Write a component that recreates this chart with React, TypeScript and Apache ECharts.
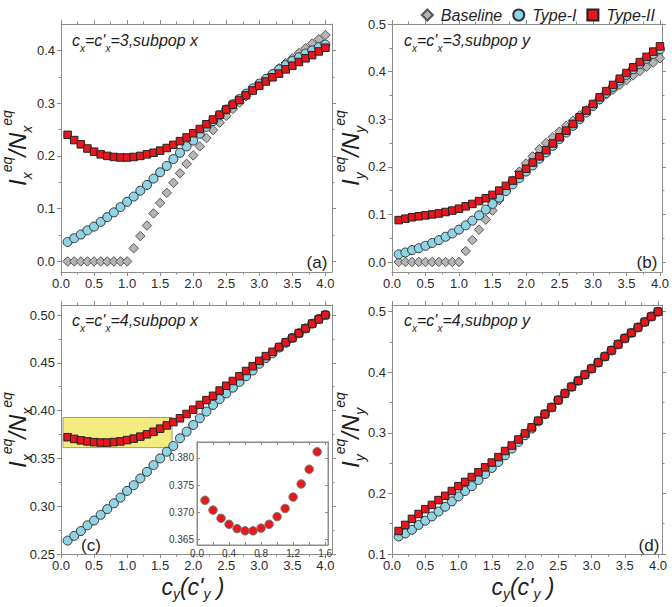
import React, { useEffect, useRef } from 'react';
import * as echarts from 'echarts';

const FONT = '"Liberation Sans", Arial, Helvetica, sans-serif';

// ---------- data ----------
const xs = [0.1, 0.2, 0.3, 0.4, 0.5, 0.6, 0.7, 0.8, 0.9, 1.0, 1.1, 1.2, 1.3, 1.4, 1.5, 1.6, 1.7, 1.8, 1.9, 2.0,
  2.1, 2.2, 2.3, 2.4, 2.5, 2.6, 2.7, 2.8, 2.9, 3.0, 3.1, 3.2, 3.3, 3.4, 3.5, 3.6, 3.7, 3.8, 3.9, 4.0];

// panel (a): cx=c'x=3, subpop x
const aBaseline = [0, 0, 0, 0, 0, 0, 0, 0, 0, 0, 0.025, 0.048, 0.068, 0.091, 0.111, 0.130, 0.149, 0.167, 0.185, 0.201,
  0.218, 0.234, 0.249, 0.263, 0.276, 0.289, 0.301, 0.313, 0.324, 0.335, 0.346, 0.356, 0.366, 0.376, 0.385, 0.395, 0.404, 0.413, 0.421, 0.429];
const aType1 = [0.037, 0.044, 0.051, 0.059, 0.066, 0.075, 0.084, 0.093, 0.103, 0.113, 0.123, 0.134, 0.145, 0.157, 0.169, 0.181, 0.194, 0.206, 0.218, 0.229,
  0.242, 0.255, 0.266, 0.277, 0.288, 0.298, 0.308, 0.318, 0.328, 0.337, 0.346, 0.355, 0.364, 0.372, 0.380, 0.387, 0.394, 0.400, 0.406, 0.411];
const aType2 = [0.240, 0.230, 0.222, 0.214, 0.208, 0.203, 0.200, 0.198, 0.197, 0.197, 0.198, 0.200, 0.203, 0.206, 0.210, 0.215, 0.221, 0.228, 0.235, 0.243,
  0.251, 0.260, 0.269, 0.278, 0.288, 0.297, 0.306, 0.315, 0.324, 0.333, 0.341, 0.349, 0.356, 0.364, 0.371, 0.378, 0.385, 0.391, 0.398, 0.405];

// panel (b): cx=c'x=3, subpop y
const bBaseline = [0, 0, 0, 0, 0, 0, 0, 0, 0, 0, 0.023, 0.046, 0.068, 0.089, 0.108, 0.130, 0.151, 0.171, 0.190, 0.207,
  0.222, 0.237, 0.250, 0.262, 0.274, 0.286, 0.297, 0.308, 0.319, 0.330, 0.341, 0.352, 0.362, 0.372, 0.382, 0.392, 0.401, 0.410, 0.419, 0.428];
const bType1 = [0.016, 0.020, 0.025, 0.029, 0.034, 0.040, 0.046, 0.053, 0.060, 0.068, 0.077, 0.087, 0.098, 0.110, 0.122, 0.135, 0.149, 0.163, 0.176, 0.190,
  0.203, 0.217, 0.230, 0.244, 0.258, 0.272, 0.286, 0.300, 0.314, 0.328, 0.342, 0.355, 0.368, 0.381, 0.393, 0.405, 0.416, 0.427, 0.437, 0.447];
const bType2 = [0.088, 0.091, 0.094, 0.096, 0.098, 0.100, 0.102, 0.105, 0.108, 0.112, 0.117, 0.122, 0.128, 0.134, 0.141, 0.150, 0.160, 0.171, 0.183, 0.196,
  0.209, 0.222, 0.235, 0.249, 0.262, 0.276, 0.290, 0.304, 0.318, 0.332, 0.346, 0.359, 0.372, 0.385, 0.397, 0.409, 0.420, 0.431, 0.442, 0.453];

// panel (c): cx=c'x=4, subpop x
const cType1 = [0.264, 0.269, 0.274, 0.280, 0.285, 0.291, 0.297, 0.303, 0.309, 0.316, 0.322, 0.329, 0.336, 0.343, 0.350, 0.357, 0.363, 0.371, 0.378, 0.385,
  0.392, 0.399, 0.406, 0.412, 0.418, 0.424, 0.430, 0.436, 0.442, 0.449, 0.455, 0.460, 0.466, 0.471, 0.476, 0.481, 0.486, 0.491, 0.496, 0.500];
const cType2 = [0.3722, 0.3704, 0.3689, 0.3678, 0.3670, 0.3666, 0.3666, 0.3671, 0.3678, 0.3692, 0.3707, 0.3728, 0.3752, 0.3779, 0.3811, 0.3845, 0.388, 0.392, 0.3965, 0.401,
  0.406, 0.411, 0.4155, 0.421, 0.426, 0.431, 0.436, 0.4415, 0.4465, 0.452, 0.457, 0.4615, 0.4665, 0.4715, 0.476, 0.481, 0.486, 0.491, 0.4955, 0.500];

// panel (d): cx=c'x=4, subpop y
const dType1 = [0.129, 0.134, 0.140, 0.148, 0.155, 0.162, 0.170, 0.178, 0.187, 0.195, 0.204, 0.212, 0.222, 0.232, 0.242, 0.252, 0.263, 0.274, 0.285, 0.296,
  0.307, 0.319, 0.331, 0.342, 0.354, 0.365, 0.376, 0.386, 0.396, 0.406, 0.416, 0.426, 0.436, 0.446, 0.456, 0.465, 0.474, 0.483, 0.492, 0.500];
const dType2 = [0.138, 0.148, 0.158, 0.166, 0.174, 0.181, 0.189, 0.196, 0.204, 0.212, 0.219, 0.227, 0.235, 0.243, 0.251, 0.260, 0.270, 0.279, 0.289, 0.299,
  0.309, 0.320, 0.331, 0.342, 0.354, 0.365, 0.376, 0.386, 0.396, 0.406, 0.416, 0.426, 0.436, 0.446, 0.456, 0.465, 0.474, 0.483, 0.492, 0.500];

// inset of (c)
const insetX = [0.1, 0.2, 0.3, 0.4, 0.5, 0.6, 0.7, 0.8, 0.9, 1.0, 1.1, 1.2, 1.3, 1.4, 1.5];
const insetY = [0.3722, 0.3704, 0.3689, 0.3678, 0.3670, 0.3666, 0.3666, 0.3671, 0.3678, 0.3692, 0.3707, 0.3728, 0.3752, 0.3779, 0.3811];

// highlighted region in (c)
const highlightX = [0.03, 1.68];
const highlightY = [0.3613, 0.3928];

// ticks
const xMajor = [0, 0.5, 1.0, 1.5, 2.0, 2.5, 3.0, 3.5, 4.0];
const xMinor = [0.25, 0.75, 1.25, 1.75, 2.25, 2.75, 3.25, 3.75];
const yMajorA = [0, 0.1, 0.2, 0.3, 0.4];
const yMinorA = [0.05, 0.15, 0.25, 0.35];
const yMajorB = [0, 0.1, 0.2, 0.3, 0.4, 0.5];
const yMinorB = [0.05, 0.15, 0.25, 0.35, 0.45];
const yMajorC = [0.25, 0.30, 0.35, 0.40, 0.45, 0.50];
const yMinorC = [0.275, 0.325, 0.375, 0.425, 0.475];
const yMajorD = [0.1, 0.2, 0.3, 0.4, 0.5];
const yMinorD = [0.15, 0.25, 0.35, 0.45];
const insetXLabels = [0, 0.4, 0.8, 1.2, 1.6];
const insetXTicks = [0, 0.2, 0.4, 0.6, 0.8, 1.0, 1.2, 1.4, 1.6];
const insetYLabels = [0.365, 0.370, 0.375, 0.380];

// ---------- styles ----------
const FRAME = '#8c8c8c';
const LABEL = '#2a2a2a';
const BASE_FILL = '#b5b5b5';
const BASE_BORDER = '#555555';
const T1_FILL = '#8fd3e5';
const T1_BORDER = '#333333';
const T2_FILL = '#e8161c';
const T2_BORDER = '#222222';

function buildOption() {
  const xAxes: any[] = [];
  const yAxes: any[] = [];

  const base = (grid: number, min: number, max: number) => ({
    type: 'value', gridIndex: grid, min, max, silent: true,
    splitLine: { show: false },
    axisLine: { show: false, onZero: false },
    axisLabel: { show: false },
    axisTick: { show: false },
  });

  function addSet(list: any[], grid: number, pos: [string, string], min: number, max: number,
    labels: number[], ticks: number[], minors: number[], digits: number,
    o: { inside: boolean; len: number; minorLen: number; fontSize: number; margin: number; color: string }) {
    const ls = { color: FRAME, width: 1 };
    const idx = list.length;
    list.push({
      ...base(grid, min, max), position: pos[0],
      axisLine: { show: true, onZero: false, lineStyle: ls },
      axisTick: { show: true, inside: o.inside, length: o.len, customValues: ticks, lineStyle: ls },
      axisLabel: {
        show: true, customValues: labels, formatter: (v: number) => v.toFixed(digits),
        color: o.color, fontSize: o.fontSize, fontFamily: FONT, margin: o.margin,
      },
    });
    if (minors.length) {
      list.push({ ...base(grid, min, max), position: pos[0],
        axisTick: { show: true, inside: o.inside, length: o.minorLen, customValues: minors, lineStyle: ls } });
    }
    list.push({ ...base(grid, min, max), position: pos[1],
      axisLine: { show: true, onZero: false, lineStyle: ls },
      axisTick: { show: true, inside: o.inside, length: o.len, customValues: ticks, lineStyle: ls } });
    if (minors.length) {
      list.push({ ...base(grid, min, max), position: pos[1],
        axisTick: { show: true, inside: o.inside, length: o.minorLen, customValues: minors, lineStyle: ls } });
    }
    return idx;
  }

  const mainO = { inside: false, len: 4, minorLen: 2.5, fontSize: 13, margin: 5, color: LABEL };
  const mainOy = { ...mainO, margin: 6 };

  const grids = [
    { left: 61, top: 24, width: 271, height: 248 },
    { left: 392, top: 24, width: 270, height: 248 },
    { left: 61, top: 305, width: 271, height: 249 },
    { left: 392, top: 305, width: 270, height: 249 },
    { left: 197, top: 442, width: 131, height: 103, show: true, backgroundColor: '#ffffff', borderColor: FRAME, borderWidth: 1 },
  ];

  const axA = addSet(xAxes, 0, ['bottom', 'top'], 0, 4.1, xMajor, xMajor, xMinor, 1, mainO);
  const ayA = addSet(yAxes, 0, ['left', 'right'], -0.02, 0.45, yMajorA, yMajorA, yMinorA, 1, mainOy);
  const axB = addSet(xAxes, 1, ['bottom', 'top'], 0, 4.03, xMajor, xMajor, xMinor, 1, mainO);
  const ayB = addSet(yAxes, 1, ['left', 'right'], -0.021, 0.5, yMajorB, yMajorB, yMinorB, 1, mainOy);
  const axC = addSet(xAxes, 2, ['bottom', 'top'], 0, 4.1, xMajor, xMajor, xMinor, 1, mainO);
  const ayC = addSet(yAxes, 2, ['left', 'right'], 0.25, 0.5105, yMajorC, yMajorC, yMinorC, 2, mainOy);
  const axD = addSet(xAxes, 3, ['bottom', 'top'], 0, 4.06, xMajor, xMajor, xMinor, 1, mainO);
  const ayD = addSet(yAxes, 3, ['left', 'right'], 0.1, 0.511, yMajorD, yMajorD, yMinorD, 1, mainOy);
  const insetO = { inside: true, len: 3, minorLen: 2, fontSize: 10, margin: 3, color: '#3a3a3a' };
  const axI = addSet(xAxes, 4, ['bottom', 'top'], 0, 1.635, insetXLabels, insetXTicks, [], 1, insetO);
  const ayI = addSet(yAxes, 4, ['left', 'right'], 0.364, 0.3829, insetYLabels, insetYLabels, [], 3, insetO);

  const sc = (name: string, symbol: string, size: number, fill: string, border: string,
    xi: number, yi: number, xv: number[], yv: number[]) => ({
    type: 'scatter', name, symbol, symbolSize: size, xAxisIndex: xi, yAxisIndex: yi,
    data: xv.map((x, i) => [x, yv[i]]),
    itemStyle: { color: fill, borderColor: border, borderWidth: 1, opacity: 1 },
    emphasis: { disabled: true }, silent: true, clip: false,
  });

  const baseline = (xi: number, yi: number, yv: number[]) => sc('Baseline', 'diamond', 9.5, BASE_FILL, BASE_BORDER, xi, yi, xs, yv);
  const type1 = (xi: number, yi: number, yv: number[]) => sc('Type-I', 'circle', 9, T1_FILL, T1_BORDER, xi, yi, xs, yv);
  const type2 = (xi: number, yi: number, yv: number[]) => sc('Type-II', 'rect', 7.5, T2_FILL, T2_BORDER, xi, yi, xs, yv);

  const series: any[] = [
    baseline(axA, ayA, aBaseline), type1(axA, ayA, aType1), type2(axA, ayA, aType2),
    baseline(axB, ayB, bBaseline), type1(axB, ayB, bType1), type2(axB, ayB, bType2),
    {
      type: 'scatter', name: 'highlight', xAxisIndex: axC, yAxisIndex: ayC, data: [], z: 1, silent: true,
      markArea: {
        silent: true,
        itemStyle: { color: '#f3eb80', borderColor: '#9a9a9a', borderWidth: 1, opacity: 1 },
        data: [[{ coord: [highlightX[0], highlightY[0]] }, { coord: [highlightX[1], highlightY[1]] }]],
      },
    },
    type1(axC, ayC, cType1), type2(axC, ayC, cType2),
    type1(axD, ayD, dType1), type2(axD, ayD, dType2),
    sc('inset', 'circle', 8.5, '#e41a1c', '#7a7a7a', axI, ayI, insetX, insetY),
  ];

  const txt = '#1e1e1e';
  const titleRich = {
    m: { fontSize: 16, fontStyle: 'italic', fontFamily: FONT, fill: txt, lineHeight: 26 },
    s: { fontSize: 10, fontStyle: 'italic', fontFamily: FONT, fill: txt, lineHeight: 10, verticalAlign: 'bottom' },
  };
  const title = (x: number, y: number, n: string, sub: string) => ({
    type: 'text', x, y, silent: true,
    style: { text: `{m|c}{s|x}{m|=c'}{s|x}{m|=${n},subpop ${sub}}`, rich: titleRich, align: 'left', verticalAlign: 'middle' },
  });
  const yRich = {
    m: { fontSize: 24, fontStyle: 'italic', fontFamily: FONT, fill: txt, lineHeight: 34 },
    sub: { fontSize: 14, fontStyle: 'italic', fontFamily: FONT, fill: txt, lineHeight: 14, verticalAlign: 'bottom' },
    sup: { fontSize: 14, fontStyle: 'italic', fontFamily: FONT, fill: txt, lineHeight: 14, verticalAlign: 'top' },
  };
  const yName = (x: number, y: number, v: string) => ({
    type: 'text', x, y, rotation: Math.PI / 2, silent: true,
    style: { text: `{m|I}{sub|${v}}{sup|eq}{m|/N}{sub|${v}}{sup|eq}`, rich: yRich, align: 'center', verticalAlign: 'middle' },
  });
  const xRich = {
    m: { fontSize: 23, fontStyle: 'italic', fontFamily: FONT, fill: txt, lineHeight: 28 },
    s: { fontSize: 14, fontStyle: 'italic', fontFamily: FONT, fill: txt, lineHeight: 14, verticalAlign: 'bottom' },
  };
  const xName = (x: number, y: number) => ({
    type: 'text', x, y, silent: true,
    style: { text: `{m|c}{s|y}{m|(c'}{s|y}{m| )}`, rich: xRich, align: 'center', verticalAlign: 'middle' },
  });
  const letter = (x: number, y: number, t: string) => ({
    type: 'text', x, y, silent: true,
    style: { text: t, fontSize: 17, fontFamily: FONT, fill: txt, align: 'center', verticalAlign: 'middle' },
  });

  return {
    animation: false,
    backgroundColor: '#ffffff',
    grid: grids,
    xAxis: xAxes,
    yAxis: yAxes,
    series,
    legend: {
      data: ['Baseline', 'Type-I', 'Type-II'],
      right: 12, top: 2, itemWidth: 11, itemHeight: 11, itemGap: 10, selectedMode: false,
      textStyle: { fontFamily: FONT, fontSize: 16, fontStyle: 'italic', color: txt, padding: [0, 0, 0, 3] },
    },
    graphic: [
      title(72, 40, '3', 'x'), title(404, 40, '3', 'y'), title(72, 320, '4', 'x'), title(404, 320, '4', 'y'),
      yName(17, 148, 'x'), yName(350, 148, 'y'), yName(17, 430, 'x'), yName(350, 430, 'y'),
      xName(193, 587), xName(523, 587),
      letter(317, 262, '(a)'), letter(647, 262, '(b)'), letter(91, 545, '(c)'), letter(649, 545, '(d)'),
    ],
  };
}

export default function App() {
  const ref = useRef<HTMLDivElement>(null);
  useEffect(() => {
    if (!ref.current) return;
    const chart = echarts.init(ref.current, null, { renderer: 'svg' });
    chart.setOption(buildOption() as any);
    return () => chart.dispose();
  }, []);
  return <div ref={ref} style={{ position: 'absolute', left: 0, top: 0, width: 672, height: 607, background: '#fff' }} />;
}
